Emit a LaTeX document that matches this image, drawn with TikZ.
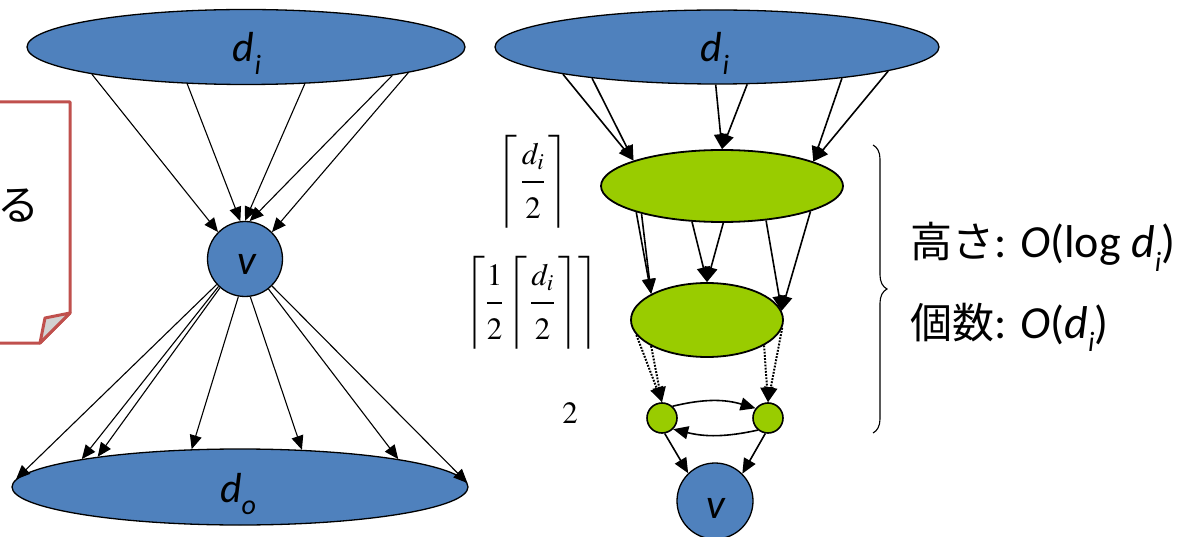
\documentclass[tikz,border=0pt]{standalone}
\usepackage{amsmath}
\usepackage{mathptmx}
\usepackage[no-math]{fontspec}
\setmainfont{Carlito}
\newfontfamily\jpfont{Noto Sans CJK JP}
\usetikzlibrary{shapes.geometric,arrows.meta,decorations.pathreplacing}
\definecolor{nodeblue}{HTML}{4F81BD}
\definecolor{nodegreen}{HTML}{99CC00}
\definecolor{notered}{HTML}{C0504D}
\newcommand\bigfont{\fontsize{42}{50}\selectfont\itshape}
\newcommand\lsub[1]{\raisebox{-0.3em}{\fontsize{28}{30}\selectfont\itshape #1}}
\newcommand\rtfont{\fontsize{46}{54}\selectfont}
\newcommand\mfont{\fontsize{31}{36}\selectfont}
\newcommand\numstrut{\rule[-0.42em]{0pt}{1.22em}}
\newcommand\denstrut{\rule[-0.2em]{0pt}{1.25em}}
\begin{document}
\begin{tikzpicture}[x=1pt,y=-1pt,
  blueell/.style={ellipse, draw, line width=1.3pt, fill=nodeblue, inner sep=0pt},
  greenell/.style={ellipse, draw, line width=1.8pt, fill=nodegreen, inner sep=0pt},
  vnode/.style={circle, draw, line width=1.3pt, fill=nodeblue, minimum size=75pt, inner sep=0pt},
  smallnode/.style={circle, draw, line width=1.6pt, fill=nodegreen, minimum size=30pt, inner sep=0pt},
  thinarr/.style={-{Triangle[length=14pt,width=12pt]}, line width=1.1pt},
  thickarr/.style={-{Triangle[length=15pt,width=13pt]}, line width=1.6pt},
  dotarr/.style={thickarr, line width=2pt, dash pattern=on 1.8pt off 1.4pt},
  lbl/.style={inner sep=0pt, anchor=base}]
\fill[white] (0,0) rectangle (1180,537);
\useasboundingbox (0,0) rectangle (1180,537);

% note box
\draw[notered, line width=3pt, fill=white, line join=round] (-10,102) -- (70,102) -- (70,313) -- (40,343) -- (-10,343);
\filldraw[notered, fill=gray!35, line width=3pt, line join=round] (70,313) -- (45,318) -- (40,343) -- cycle;
\node[font=\jpfont\fontsize{42}{48}\selectfont, inner sep=0pt] (ru) at (19,206) {る};

% left graph
\node[blueell, minimum width=438pt, minimum height=75pt] (L1) at (246,47) {};
\node[vnode] (Lv) at (245,259) {};
\node[blueell, minimum width=456pt, minimum height=76pt] (L2) at (240,487) {};
\node[lbl, font=\bigfont] (L1t) at (247,62) {d\lsub{i}};
\node[lbl, font=\bigfont] (Lvt) at (247,275) {v};
\node[lbl, font=\bigfont] (L2t) at (238,502) {d\lsub{o}};

\draw[thinarr] (L1.-170) -- (Lv.135);
\draw[thinarr] (L1.-148) -- (Lv.97);
\draw[thinarr] (L1.-32) -- (Lv.90);
\draw[thinarr] (L1.-11) -- (Lv.83);
\draw[thinarr] (L1.-9.5) -- (Lv.45);

\draw[thinarr] (Lv.-138) -- (L2.178.5);
\draw[thinarr] (Lv.-134) -- (L2.170.5);
\draw[thinarr] (Lv.-131) -- (L2.168);
\draw[thinarr] (Lv.-100) -- (L2.142);
\draw[thinarr] (Lv.-82) -- (L2.31);
\draw[thinarr] (Lv.-52) -- (L2.10.5);
\draw[thinarr] (Lv.-45) -- (L2.1.5);

% right graph
\node[blueell, minimum width=444pt, minimum height=74pt] (R1) at (717,47) {};
\node[greenell, minimum width=242pt, minimum height=72pt] (G1) at (722,186) {};
\node[greenell, minimum width=152pt, minimum height=74pt] (G2) at (707,320) {};
\node[smallnode] (S1) at (662,418) {};
\node[smallnode] (S2) at (768,418) {};
\node[vnode, minimum size=76pt] (V2) at (715,501) {};
\node[lbl, font=\bigfont] (R1t) at (715,62) {d\lsub{i}};
\node[lbl, font=\bigfont] (V2t) at (716,518) {v};

\draw[thickarr] (R1.-170) -- (G1.164);
\draw[thickarr] (R1.-166) -- (G1.164);
\draw[thickarr] (R1.-92) -- (G1.90);
\draw[thickarr] (R1.-51) -- (G1.90);
\draw[thickarr] (R1.-14) -- (G1.15);
\draw[thickarr] (R1.-8.5) -- (G1.15);

\draw[thickarr] (G1.-163) -- (G2.155);
\draw[thickarr] (G1.-161) -- (G2.155);
\draw[thickarr] (G1.-130) -- (G2.90);
\draw[thickarr] (G1.-88) -- (G2.90);
\draw[thickarr] (G1.-38) -- (G2.7);
\draw[thickarr] (G1.-16) -- (G2.7);

\draw[dotarr] (G2.-168) -- (S1.90);
\draw[dotarr] (G2.-155) -- (S1.90);
\draw[dotarr] (G2.-24) -- (S2.90);
\draw[dotarr] (G2.-6) -- (S2.90);

\draw[thickarr] (S1.48) to[bend left=15] (S2.142);
\draw[thickarr] (S2.-130) to[bend left=13] (S1.-45);
\draw[thickarr] (S1.-80) -- (V2.134);
\draw[thickarr] (S2.-100) -- (V2.45);

% level labels
\node[font=\mfont, inner sep=0pt] (f1) at (533,182)
  {$\left\lceil\,\dfrac{\numstrut d_i}{\denstrut 2}\,\right\rceil$};
\node[font=\mfont, inner sep=0pt] (f2) at (532,303)
  {$\left\lceil\dfrac{\numstrut 1}{\denstrut 2}\left\lceil\,\dfrac{\numstrut d_i}{\denstrut 2}\,\right\rceil\right\rceil$};
\node[font=\mfont, inner sep=0pt] (f3) at (570,413) {$2$};

% brace and complexity text
\coordinate (B1) at (873,145);
\coordinate (B2) at (873,433);
\draw[decorate, decoration={brace, amplitude=14pt}, line width=1.1pt] (B1) -- (B2);
\node[inner sep=0pt, anchor=base west, font=\rtfont] (t1) at (910,258)
  {{\jpfont\fontsize{42}{50}\selectfont 高さ}: \textit{O}(log \textit{d}\lsub{i})};
\node[inner sep=0pt, anchor=base west, font=\rtfont] (t2) at (910,338)
  {{\jpfont\fontsize{42}{50}\selectfont 個数}: \textit{O}(\textit{d}\lsub{i})};
\end{tikzpicture}
\end{document}
